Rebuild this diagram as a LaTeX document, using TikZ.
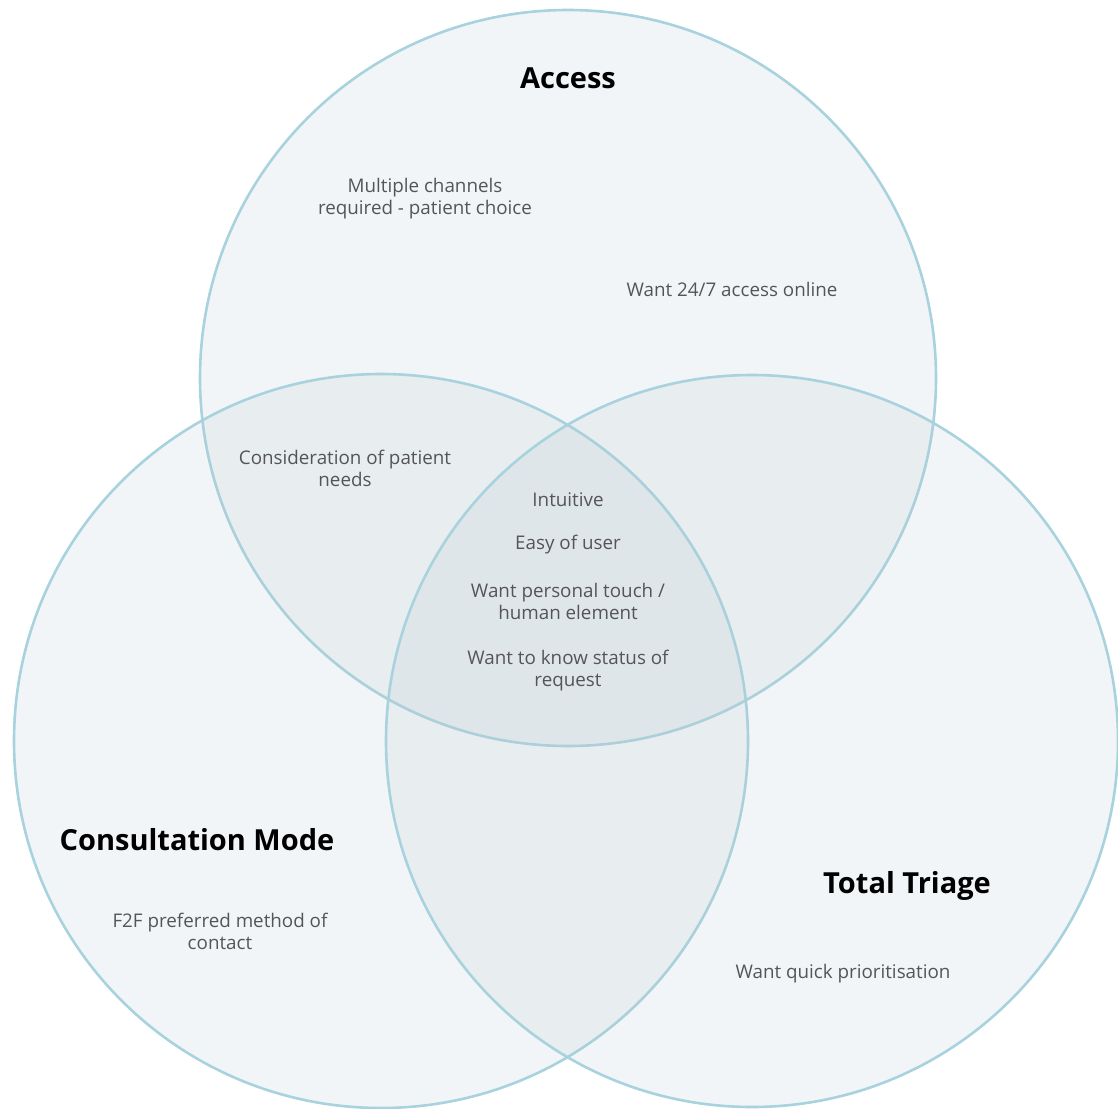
\documentclass[tikz,border=0pt]{standalone}
\usepackage{fontspec}
\setmainfont{Open Sans}
\definecolor{ringline}{HTML}{A8D3DE}
\definecolor{ringfill}{RGB}{183,200,210}
\definecolor{itemgrey}{HTML}{555555}
\begin{document}
\begin{tikzpicture}[x=1pt,y=-1pt,
  ring/.style={draw=ringline,line width=2.6pt,fill=ringfill,fill opacity=0.17,draw opacity=1},
  title/.style={font=\fontsize{29}{34}\selectfont\bfseries,text=black,inner sep=0pt,yshift=-2.5pt},
  item/.style={font=\fontsize{18.8}{22}\selectfont,text=itemgrey,align=center,inner sep=0pt,yshift=-2.5pt}]
\useasboundingbox (0,0) rectangle (1118,1108);
\fill[white] (0,0) rectangle (1118,1108);
\path[ring] (568,378) circle[radius=368pt];
\path[ring] (381,741) circle[radius=367pt];
\path[ring] (752,741) circle[radius=366pt];
\node[title] (access) at (568,76) {Access};
\node[title] (consult) at (197,837) {Consultation Mode};
\node[title] (triage) at (907,883) {Total Triage};
\node[item] (multi) at (425,196) {Multiple channels\\required - patient choice};
\node[item] (online) at (732,287) {Want 24/7 access online};
\node[item] (needs) at (345,466) {Consideration of patient\\needs};
\node[item] (intuitive) at (568,497) {Intuitive};
\node[item] (easy) at (568,542) {Easy of user};
\node[item] (touch) at (568,599) {Want personal touch /\\human element};
\node[item] (status) at (568,668) {Want to know status of\\request};
\node[item] (f2f) at (220,929) {F2F preferred method of\\contact};
\node[item] (quick) at (843,971) {Want quick prioritisation};
\end{tikzpicture}
\end{document}
